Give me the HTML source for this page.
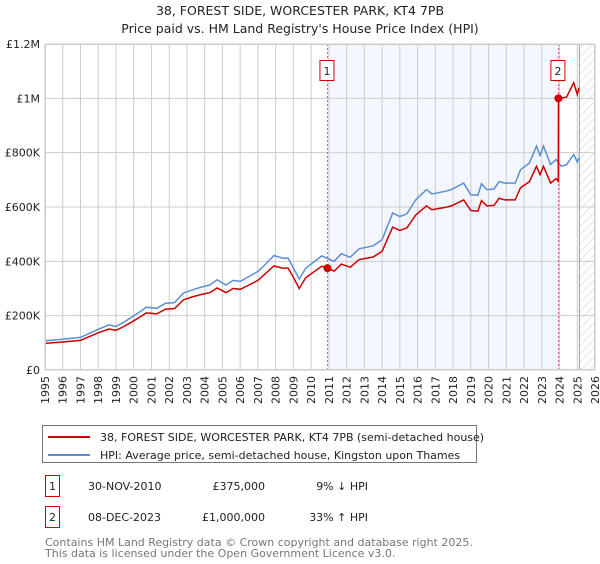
<!DOCTYPE html>
<html><head><meta charset="utf-8"><style>
body{margin:0;background:#fff;font-family:"DejaVu Sans","Liberation Sans",sans-serif;}
svg text{font-family:"DejaVu Sans","Liberation Sans",sans-serif;}
</style></head><body>
<svg id="chart" width="600" height="560" viewBox="0 0 600 560" xmlns="http://www.w3.org/2000/svg">
<defs><pattern id="hatch" width="6" height="6" patternUnits="userSpaceOnUse" patternTransform="rotate(45)"><line x1="0" y1="0" x2="0" y2="6" stroke="#ccc" stroke-width="1"/></pattern></defs>
<text x="300" y="15" text-anchor="middle" font-size="12.5" fill="#222">38, FOREST SIDE, WORCESTER PARK, KT4 7PB</text>
<text x="300" y="33" text-anchor="middle" font-size="12.5" fill="#222">Price paid vs. HM Land Registry's House Price Index (HPI)</text>
<g id="plot"></g>
<g>
<rect x="42.5" y="425.5" width="434" height="37" fill="#fff" stroke="#777"/>
<line x1="48" y1="437" x2="90" y2="437" stroke="#cc0000" stroke-width="2"/>
<text x="100" y="441" font-size="11" fill="#222">38, FOREST SIDE, WORCESTER PARK, KT4 7PB (semi-detached house)</text>
<line x1="48" y1="455" x2="90" y2="455" stroke="#5b8fd4" stroke-width="2"/>
<text x="100" y="459" font-size="11" fill="#222">HPI: Average price, semi-detached house, Kingston upon Thames</text>
</g>
<g>
<rect x="45.5" y="475.5" width="14" height="21" fill="#fff" stroke="#cc0000"/>
<text x="52.5" y="490" text-anchor="middle" font-size="11" fill="#222">1</text>
<text x="88" y="490" font-size="11" fill="#222">30-NOV-2010</text>
<text x="265" y="490" text-anchor="end" font-size="11" fill="#222">£375,000</text>
<text x="368" y="490" text-anchor="end" font-size="11" fill="#222">9% ↓ HPI</text>
</g>
<g>
<rect x="45.5" y="506.5" width="14" height="21" fill="#fff" stroke="#cc0000"/>
<text x="52.5" y="521" text-anchor="middle" font-size="11" fill="#222">2</text>
<text x="88" y="521" font-size="11" fill="#222">08-DEC-2023</text>
<text x="265" y="521" text-anchor="end" font-size="11" fill="#222">£1,000,000</text>
<text x="368" y="521" text-anchor="end" font-size="11" fill="#222">33% ↑ HPI</text>
</g>
<text x="45" y="546" font-size="11" fill="#777">Contains HM Land Registry data © Crown copyright and database right 2025.</text>
<text x="45" y="557" font-size="11" fill="#777">This data is licensed under the Open Government Licence v3.0.</text>
</svg>
<script>
const hpiDates=[1995,1996,1997,1998,1998.6,1999,1999.5,2000,2000.5,2000.7,2001.3,2001.8,2002.3,2002.8,2003.3,2003.8,2004.3,2004.7,2005.2,2005.6,2006,2006.5,2007,2007.3,2007.9,2008.4,2008.7,2009,2009.33,2009.7,2010.6,2011.3,2011.7,2012.2,2012.7,2013.5,2014,2014.6,2015,2015.4,2015.9,2016.5,2016.8,2017.6,2017.9,2018.6,2019,2019.4,2019.6,2019.9,2020.3,2020.6,2020.9,2021.5,2021.8,2022.3,2022.7,2022.9,2023.1,2023.5,2023.8,2024.1,2024.4,2024.8,2025,2025.1];
const hpiValues=[108,113,120,150,166,160,178,199,221,231,227,246,248,283,295,305,313,332,313,330,326,344,363,381,421,412,412,375,335,375,420,400,428,415,446,457,480,578,565,575,627,664,648,658,664,688,645,643,686,664,666,694,688,688,737,762,824,790,824,756,775,750,756,793,765,780];
const redDates=[1995,1996,1997,1998,1998.6,1999,1999.5,2000,2000.5,2000.7,2001.3,2001.8,2002.3,2002.8,2003.3,2003.8,2004.3,2004.7,2005.2,2005.6,2006,2006.5,2007,2007.3,2007.9,2008.4,2008.7,2009,2009.33,2009.7,2010.6,2010.92,2011.3,2011.7,2012.2,2012.7,2013.5,2014,2014.6,2015,2015.4,2015.9,2016.5,2016.8,2017.6,2017.9,2018.6,2019,2019.4,2019.6,2019.9,2020.3,2020.6,2020.9,2021.5,2021.8,2022.3,2022.7,2022.9,2023.1,2023.5,2023.8,2023.93,2023.94,2024.1,2024.4,2024.8,2025,2025.1];
const redValues=[98,103,109,137,151,146,162,181,201,210,207,224,226,258,269,278,285,302,285,300,297,313,330,347,383,375,375,341,300,340,382,375,364,390,378,406,416,437,526,514,523,571,604,590,599,604,626,587,585,624,604,606,632,626,626,671,693,750,719,750,688,705,695,1000,1000,1005,1057,1014,1039];
const sales=[{d:2010.92,v:375,n:'1'},{d:2023.94,v:1000,n:'2'}];
const yTicks=[0,200,400,600,800,1000,1200];
const yLabels=['£0','£200K','£400K','£600K','£800K','£1M','£1.2M'];
const xYears=[1995,1996,1997,1998,1999,2000,2001,2002,2003,2004,2005,2006,2007,2008,2009,2010,2011,2012,2013,2014,2015,2016,2017,2018,2019,2020,2021,2022,2023,2024,2025,2026];

const L=45,R=595,T=44,B=370;
const X=d=>L+(d-1995)/(2026-1995)*(R-L);
const Y=v=>B-v/1200*(B-T);
const g=document.getElementById('plot');
const NS='http://www.w3.org/2000/svg';
function mk(t,a,p){const e=document.createElementNS(NS,t);for(const k in a)e.setAttribute(k,a[k]);(p||g).appendChild(e);return e;}
let e;
e=mk('rect',{x:L,y:T,width:R-L,height:B-T,fill:'#fff'});


e=mk('rect',{x:X(sales[0].d),y:T,width:X(sales[1].d)-X(sales[0].d),height:B-T,fill:'#eef2fc',opacity:0.7});


const hs=2025.12;
e=mk('rect',{x:X(hs),y:T,width:R-X(hs),height:B-T,fill:'url(#hatch)'});


xYears.forEach(yr=>{
 e=mk('line',{x1:X(yr),x2:X(yr),y1:T,y2:B,stroke:'#ccc','stroke-width':1});
 
 
 const x=X(yr)+4,y=B+6;
 e=mk('text',{x:x,y:y,transform:`rotate(-90 ${x} ${y})`,'text-anchor':'end','font-size':11,fill:'#222'});
 e.textContent=yr;
 
 
});
yTicks.forEach((v,i)=>{
 e=mk('line',{x1:L,x2:R,y1:Y(v),y2:Y(v),stroke:'#ccc','stroke-width':1});
 
 
 e=mk('text',{x:L-5,y:Y(v)+4,'text-anchor':'end','font-size':11,fill:'#222'});
 e.textContent=yLabels[i];
 
 
});
e=mk('line',{x1:X(hs),x2:X(hs),y1:T,y2:B,stroke:'#999','stroke-width':1});


sales.forEach(s=>{
 e=mk('line',{x1:X(s.d),x2:X(s.d),y1:T,y2:B,stroke:'#e06060','stroke-width':1,'stroke-dasharray':'2,2'});
 
 
});
function pts(ds,vs){return ds.map((d,i)=>X(d).toFixed(1)+','+Y(vs[i]).toFixed(1)).join(' ');}
e=mk('polyline',{points:pts(hpiDates,hpiValues),fill:'none',stroke:'#5b8fd4','stroke-width':1.5});


e=mk('polyline',{points:pts(redDates,redValues),fill:'none',stroke:'#cc0000','stroke-width':1.5});


sales.forEach(s=>{
 e=mk('circle',{cx:X(s.d),cy:Y(s.v),r:4,fill:'#cc0000'});
 
 
 e=mk('rect',{x:X(s.d)-7.5,y:60.5,width:14,height:20,fill:'#fff',stroke:'#cc0000'});
 
 
 e=mk('text',{x:X(s.d)-0.5,y:75,'text-anchor':'middle','font-size':11,fill:'#222'});
 e.textContent=s.n;
 
 
});
e=mk('rect',{x:L+0.5,y:T+0.5,width:R-L-1,height:B-T-1,fill:'none',stroke:'#ccc'});


</script>
</body></html>
